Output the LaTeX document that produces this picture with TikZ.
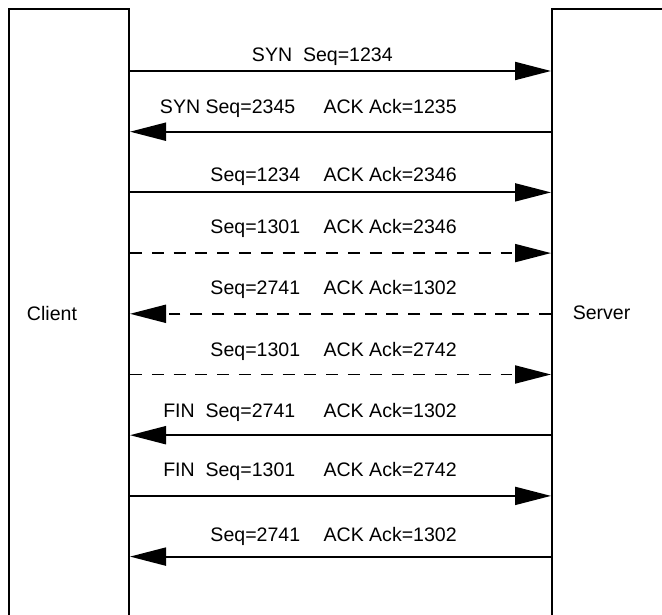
\documentclass[tikz,border=0pt]{standalone}
\usepackage{fontspec}
\setmainfont{Liberation Sans}
\usetikzlibrary{arrows.meta}
\newcommand{\fieldgap}{\hspace{1.2em}}
\newcommand{\widegap}{\hspace{1.45em}}

\begin{document}
\begin{tikzpicture}[x=0.025cm,y=-0.025cm,
    font=\fontsize{13.9}{16}\selectfont,
    host/.style={draw,line width=1.4pt,minimum width=3cm,minimum height=15.2cm,
      anchor=north west,align=left},
    msg/.style={line width=1.4pt,-{Triangle[length=25.6pt,width=12.8pt]}},
    lost/.style={msg,dash pattern=on 8.5pt off 7pt},
    seg/.style={inner sep=0pt,anchor=base east}]
  \useasboundingbox (0,0) rectangle (662,615);
  \clip (0,0) rectangle (662,615);
  \node[host,inner xsep=0.45cm,text width=2.1cm] (client) at (8,8) {Client};
  \node[host,inner xsep=0.52cm,text width=1.96cm] (server) at (551,8) {Server};
  % handshake
  \node[seg] (syn) at (393,61.7) {SYN\ \ Seq=1234};
  \draw[msg] (client.east |- 0,71) -- (server.west |- 0,71);
  \node[seg] (synack) at (457,113.3) {SYN Seq=2345\widegap ACK Ack=1235};
  \draw[msg] (server.west |- 0,131.7) -- (client.east |- 0,131.7);
  \node[seg] (ack) at (457,181.7) {Seq=1234\fieldgap ACK Ack=2346};
  \draw[msg] (client.east |- 0,192.4) -- (server.west |- 0,192.4);
  % data
  \node[seg] (data1) at (457,233.3) {Seq=1301\fieldgap ACK Ack=2346};
  \draw[lost] (client.east |- 0,253.1) -- (server.west |- 0,253.1);
  \node[seg] (data2) at (457,295) {Seq=2741\fieldgap ACK Ack=1302};
  \draw[lost] (server.west |- 0,313.8) -- (client.east |- 0,313.8);
  \node[seg] (data3) at (457,356) {Seq=1301\fieldgap ACK Ack=2742};
  \draw[lost] (client.east |- 0,374.5) -- (server.west |- 0,374.5);
  % teardown
  \node[seg] (fin1) at (457,417.3) {FIN\ \ Seq=2741\widegap ACK Ack=1302};
  \draw[msg] (server.west |- 0,435.2) -- (client.east |- 0,435.2);
  \node[seg] (fin2) at (457,476.7) {FIN\ \ Seq=1301\widegap ACK Ack=2742};
  \draw[msg] (client.east |- 0,495.9) -- (server.west |- 0,495.9);
  \node[seg] (last) at (457,541.7) {Seq=2741\fieldgap ACK Ack=1302};
  \draw[msg] (server.west |- 0,556.6) -- (client.east |- 0,556.6);
\end{tikzpicture}
\end{document}
